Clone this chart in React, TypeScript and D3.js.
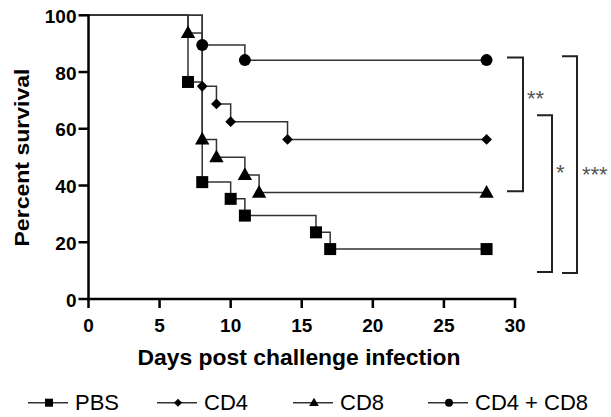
import React from "react";
import * as d3 from "d3";

// ---- data ----
const seriesNames = ["PBS", "CD4", "CD8", "CD4 + CD8"];
const symbols = ["square", "diamond", "triangle", "circle"];
const pbsDays = [7, 8, 10, 11, 16, 17];
const pbsSurvival = [76.5, 41.2, 35.3, 29.4, 23.5, 17.6];
const cd4Days = [8, 9, 10, 14];
const cd4Survival = [75, 68.75, 62.5, 56.25];
const cd8Days = [7, 8, 9, 11, 12];
const cd8Survival = [93.75, 56.25, 50, 43.75, 37.5];
const cd48Days = [8, 11];
const cd48Survival = [89.5, 84.2];
const endDay = 28;
const xTicks = [0, 5, 10, 15, 20, 25, 30];
const yTicks = [0, 20, 40, 60, 80, 100];
// significance brackets: top %, bottom %, label position %, label
const bracketTop = [85.1, 64.8, 85.6];
const bracketBottom = [38.0, 9.5, 9.2];
const bracketLabelAt = [72.6, 46.2, 45.5];
const bracketLabels = ["**", "*", "***"];

const W = 611;
const H = 417;
const FONT = "'Liberation Sans', Arial, Helvetica, sans-serif";

const x = d3.scaleLinear().domain([0, 30]).range([88.5, 515]);
const y = d3.scaleLinear().domain([0, 100]).range([299, 15.3]);

const allDays = [pbsDays, cd4Days, cd8Days, cd48Days];
const allSurv = [pbsSurvival, cd4Survival, cd8Survival, cd48Survival];

function Marker({ type, cx, cy, s }: { type: string; cx: number; cy: number; s: number }) {
  const fill = "#000";
  if (type === "square") {
    return <rect x={cx - s / 2} y={cy - s / 2} width={s} height={s} fill={fill} />;
  }
  if (type === "circle") {
    return <circle cx={cx} cy={cy} r={s / 2} fill={fill} />;
  }
  if (type === "diamond") {
    const r = s * 0.45;
    return (
      <path d={`M${cx},${cy - r}L${cx + r},${cy}L${cx},${cy + r}L${cx - r},${cy}Z`} fill={fill} />
    );
  }
  const w = s * 1.2;
  const h = s * 1.05;
  return (
    <path
      d={`M${cx},${cy - h * 0.6}L${cx + w / 2},${cy + h * 0.4}L${cx - w / 2},${cy + h * 0.4}Z`}
      fill={fill}
    />
  );
}

export default function App() {
  const line = d3
    .line<[number, number]>()
    .x((d) => x(d[0]))
    .y((d) => y(d[1]))
    .curve(d3.curveStepAfter);

  const series = allDays.map((days, i) => {
    const surv = allSurv[i];
    const pts: [number, number][] = [[0, 100]];
    days.forEach((t, j) => pts.push([t, surv[j]]));
    pts.push([endDay, surv[surv.length - 1]]);
    const marks: [number, number][] = days.map((t, j) => [t, surv[j]] as [number, number]);
    marks.push([endDay, surv[surv.length - 1]]);
    return { path: line(pts) || "", marks };
  });

  const bracketX = [
    { x0: 507, x1: 523, lx: 527 },
    { x0: 537, x1: 552, lx: 556 },
    { x0: 562, x1: 577, lx: 582 },
  ];

  const legendX = [28, 157, 293, 428];
  const legendY = 402.7;

  return (
    <svg width={W} height={H} style={{ position: "absolute", left: 0, top: 0 }}>
      <rect width={W} height={H} fill="#fff" />
      {series.map((s, i) => (
        <path key={i} d={s.path} fill="none" stroke="#333" strokeWidth={1.5} />
      ))}
      {series.map((s, i) =>
        s.marks.map((m, j) => (
          <Marker key={`${i}-${j}`} type={symbols[i]} cx={x(m[0])} cy={y(m[1])} s={12} />
        ))
      )}
      <g stroke="#000" strokeWidth={2.5} fill="none">
        <line x1={x(0)} x2={x(0)} y1={y(100) - 1} y2={y(0) + 1.25} />
        <line x1={x(0) - 1.25} x2={x(30) + 1.25} y1={y(0)} y2={y(0)} />
        {yTicks.map((t) => (
          <line key={"yt" + t} x1={x(0) - 10} x2={x(0)} y1={y(t)} y2={y(t)} />
        ))}
        {xTicks.map((t) => (
          <line key={"xt" + t} x1={x(t)} x2={x(t)} y1={y(0)} y2={y(0) + 9} />
        ))}
      </g>
      <g fontFamily={FONT} fontWeight="bold" fontSize={19} fill="#000">
        {yTicks.map((t) => (
          <text key={"yl" + t} x={x(0) - 12} y={y(t) + 7.5} textAnchor="end">
            {t}
          </text>
        ))}
        {xTicks.map((t) => (
          <text key={"xl" + t} x={x(t)} y={331.5} textAnchor="middle">
            {t}
          </text>
        ))}
      </g>
      <text
        x={299}
        y={365}
        textAnchor="middle"
        fontFamily={FONT}
        fontWeight="bold"
        fontSize={22}
        textLength={323}
        lengthAdjust="spacingAndGlyphs"
      >
        Days post challenge infection
      </text>
      <text
        transform={`translate(28.5,157.5) rotate(-90)`}
        textAnchor="middle"
        fontFamily={FONT}
        fontWeight="bold"
        fontSize={21}
        textLength={178}
        lengthAdjust="spacingAndGlyphs"
      >
        Percent survival
      </text>
      {bracketLabels.map((lab, i) => {
        const b = bracketX[i];
        const yt = y(bracketTop[i]);
        const yb = y(bracketBottom[i]);
        return (
          <g key={"br" + i}>
            <path
              d={`M${b.x0},${yt}H${b.x1}V${yb}H${b.x0}`}
              fill="none"
              stroke="#222"
              strokeWidth={2}
            />
            <text
              x={b.lx}
              y={y(bracketLabelAt[i]) + 12.5}
              fontFamily={FONT}
              fontSize={22}
              fill="#555"
            >
              {lab}
            </text>
          </g>
        );
      })}
      {seriesNames.map((name, i) => {
        const lx = legendX[i];
        return (
          <g key={"lg" + i}>
            <line x1={lx} x2={lx + 40} y1={legendY} y2={legendY} stroke="#333" strokeWidth={1.5} />
            <Marker type={symbols[i]} cx={lx + 21} cy={legendY} s={i === 1 ? 9 : 8} />
            <text x={lx + 47} y={legendY + 7.5} fontFamily={FONT} fontSize={22} fill="#000">
              {name}
            </text>
          </g>
        );
      })}
    </svg>
  );
}
